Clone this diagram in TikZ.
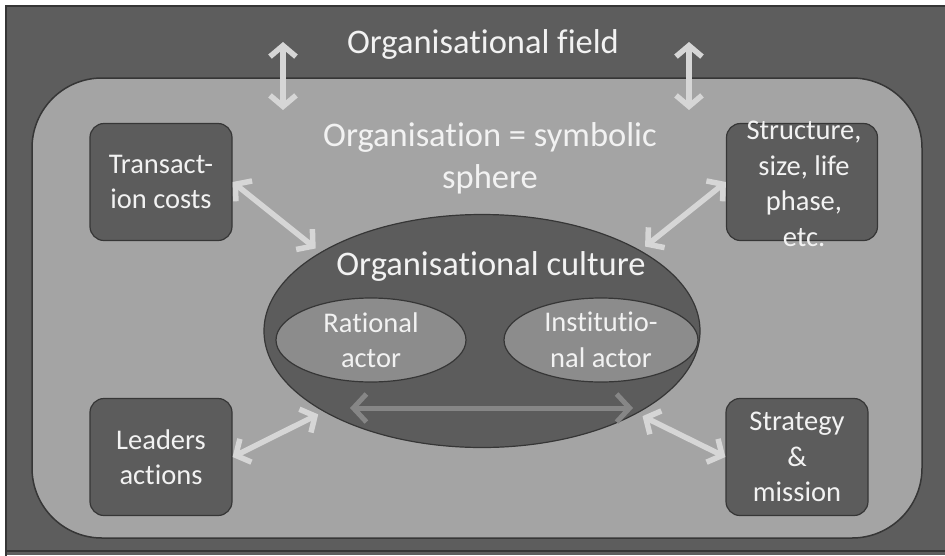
\documentclass[tikz,border=0pt]{standalone}
\usepackage{fontspec}
\setmainfont{Carlito}[Ligatures={NoCommon,NoRequired,NoContextual},Contextuals=NoAlternate]
\usetikzlibrary{arrows.meta,positioning,shapes.geometric}

\definecolor{fieldgrey}{HTML}{5D5D5D}
\definecolor{spheregrey}{HTML}{A4A4A4}
\definecolor{boxgrey}{HTML}{5C5C5C}
\definecolor{actorgrey}{HTML}{8C8C8C}
\definecolor{edgegrey}{HTML}{363636}
\definecolor{linkgrey}{HTML}{D6D6D6}
\definecolor{innergrey}{HTML}{868686}
\definecolor{txtgrey}{HTML}{F2F2F2}

\begin{document}
\begin{tikzpicture}[x=1pt,y=-1pt,
    big/.style={text=txtgrey,align=center,font=\fontsize{34.5}{42}\selectfont},
    small/.style={text=txtgrey,align=center,font=\fontsize{28.5}{35.5}\selectfont},
    box/.style={small,draw=edgegrey,line width=1.2pt,fill=boxgrey,rounded corners=14pt,
      minimum width=142pt,minimum height=117pt,inner sep=0pt},
    actor/.style={small,ellipse,draw=edgegrey,line width=1.2pt,fill=actorgrey,
      minimum width=190pt,minimum height=84pt,inner sep=0pt},
    link/.style={linkgrey,line width=5.5pt,
      {Straight Barb[length=11pt,width=26pt]}-{Straight Barb[length=11pt,width=26pt]}}]
  \useasboundingbox (0,0) rectangle (945,555);
  \fill[white] (0,0) rectangle (945,555);
  \fill[fieldgrey] (6,6) rectangle (945,555);
  \draw[edgegrey,line width=1.2pt] (6,560) -- (6,6) -- (950,6);
  \draw[edgegrey,line width=1.2pt] (6,551) -- (950,551);

  \node[draw=edgegrey,line width=1.5pt,fill=spheregrey,rounded corners=70pt,
    minimum width=890pt,minimum height=460pt] (sphere) at (477,308) {};

  \node[big] (field) at (483,44) {Organisational field};
  \node[big] (symbolic) at (490,158) {Organisation = symbolic\\sphere};

  \node[box] (trans) at (161,182) {Transact-\\ion costs};
  \node[box,minimum width=151pt] (struct) at (802,182) {};
  \node[small] (structtxt) at (804,184) {Structure,\\size, life\\phase,\\etc.};
  \node[box] (leaders) at (161,457) {Leaders\\actions};
  \node[box] (strategy) at (797,457) {Strategy\\\&\\mission};

  \node[ellipse,draw=edgegrey,line width=1.2pt,fill=boxgrey,minimum width=436pt,
    minimum height=233pt,inner sep=0pt] (culture) at (482,331) {};
  \node[big] (culturetxt) at (491,266) {Organisational culture};
  \node[actor] (rational) at (371,340) {Rational\\actor};
  \node[actor,minimum width=194pt] (institutional) at (601,340) {Institutio-\\nal actor};

  \coordinate (rationalend) at (350,408);
  \coordinate (institutionalend) at (633,408);
  \draw[innergrey,line width=5pt,{Straight Barb[length=13pt,width=28pt]}-{Straight Barb[length=13pt,width=28pt]}]
    (rationalend) -- (institutionalend);

  \coordinate (fieldl) at (283,42);
  \coordinate (spherel) at (283,110);
  \coordinate (fieldr) at (689,42);
  \coordinate (spherer) at (689,110);
  \draw[link] (fieldl) -- (spherel);
  \draw[link] (fieldr) -- (spherer);

  \foreach \from/\to in {trans.east/culture.154,struct.west/culture.27,leaders.east/culture.207,strategy.west/culture.332}
  \draw[link,shorten >=6pt] (\from)--(\to);
\end{tikzpicture}
\end{document}
